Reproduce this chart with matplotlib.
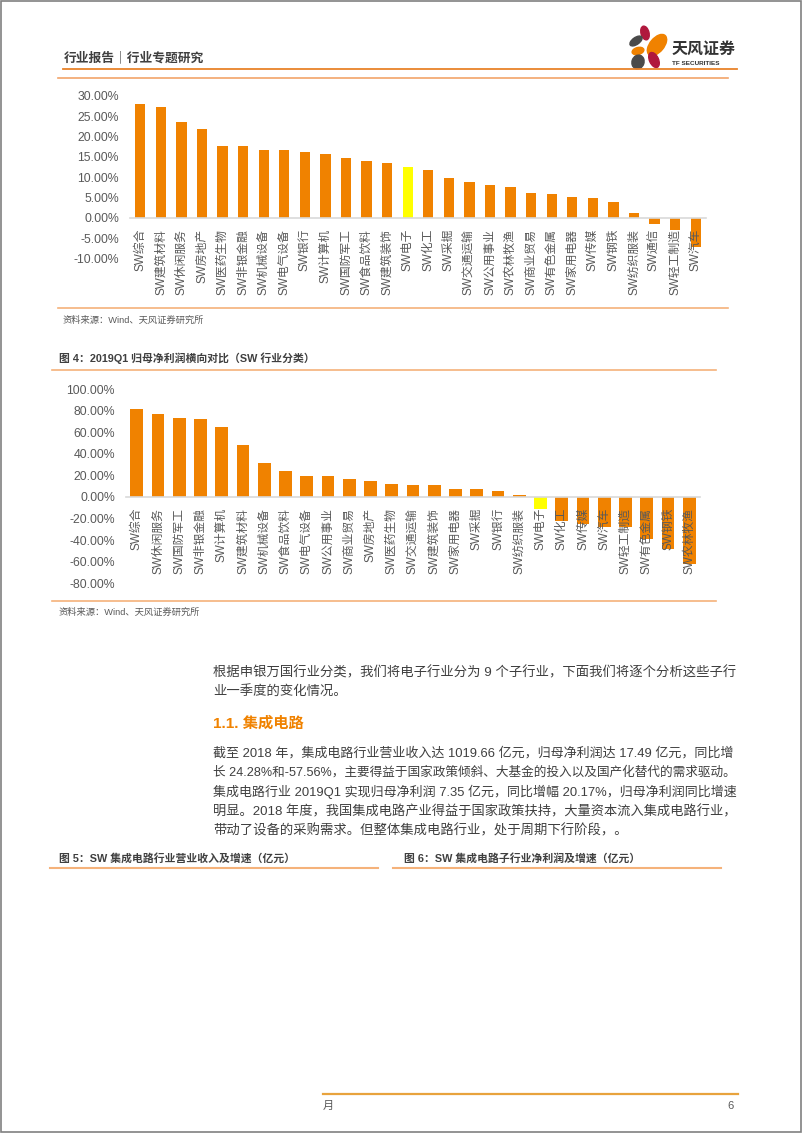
import matplotlib
matplotlib.use('Agg')
import matplotlib.pyplot as plt
from matplotlib.patches import Ellipse, Rectangle
from matplotlib.ticker import FuncFormatter
import numpy as np

plt.rcParams['font.family'] = ['Liberation Sans', 'Noto Sans CJK SC']

# chart 1 (top, caption on previous page)
rev_labels = ['SW综合', 'SW建筑材料', 'SW休闲服务', 'SW房地产', 'SW医药生物', 'SW非银金融',
              'SW机械设备', 'SW电气设备', 'SW银行', 'SW计算机', 'SW国防军工', 'SW食品饮料',
              'SW建筑装饰', 'SW电子', 'SW化工', 'SW采掘', 'SW交通运输', 'SW公用事业',
              'SW农林牧渔', 'SW商业贸易', 'SW有色金属', 'SW家用电器', 'SW传媒', 'SW钢铁',
              'SW纺织服装', 'SW通信', 'SW轻工制造', 'SW汽车']
rev_growth = [28.0, 27.3, 23.6, 21.9, 17.6, 17.6, 16.6, 16.6, 16.3, 15.8, 14.6, 14.0,
              13.6, 12.5, 11.8, 9.9, 8.8, 8.0, 7.6, 6.0, 5.8, 5.1, 4.9, 3.8,
              1.1, -1.6, -3.1, -7.1]

# chart 2: 图 4 2019Q1 归母净利润横向对比
profit_labels = ['SW综合', 'SW休闲服务', 'SW国防军工', 'SW非银金融', 'SW计算机', 'SW建筑材料',
                 'SW机械设备', 'SW食品饮料', 'SW电气设备', 'SW公用事业', 'SW商业贸易', 'SW房地产',
                 'SW医药生物', 'SW交通运输', 'SW建筑装饰', 'SW家用电器', 'SW采掘', 'SW银行',
                 'SW纺织服装', 'SW电子', 'SW化工', 'SW传媒', 'SW汽车', 'SW轻工制造',
                 'SW有色金属', 'SW钢铁', 'SW农林牧渔']
profit_growth = [81.4, 77.1, 73.4, 72.1, 65.0, 48.0, 31.3, 23.8, 19.2, 19.2, 16.4, 14.6,
                 12.4, 11.5, 11.5, 7.1, 7.1, 5.9, 2.2, -11.1, -22.6, -25.1, -27.6, -28.2,
                 -38.7, -48.3, -62.2]

para1 = ['根据申银万国行业分类，我们将电子行业分为 9 个子行业，下面我们将逐个分析这些子行',
         '业一季度的变化情况。']
para2 = ['截至 2018 年，集成电路行业营业收入达 1019.66 亿元，归母净利润达 17.49 亿元，同比增',
         '长 24.28%和-57.56%，主要得益于国家政策倾斜、大基金的投入以及国产化替代的需求驱动。',
         '集成电路行业 2019Q1 实现归母净利润 7.35 亿元，同比增幅 20.17%，归母净利润同比增速',
         '明显。2018 年度，我国集成电路产业得益于国家政策扶持，大量资本流入集成电路行业，',
         '带动了设备的采购需求。但整体集成电路行业，处于周期下行阶段，。']

ORANGE = '#F08200'
YELLOW = '#FFFF00'
GRAY = '#595959'
TEXT = '#3F3F3F'
LINE = '#F5B27A'

W, H = 802, 1133
fig = plt.figure(figsize=(W / 100, H / 100), dpi=100)

# page layer in pixel coords
page = fig.add_axes([0, 0, 1, 1])
page.set_xlim(0, W)
page.set_ylim(H, 0)
page.axis('off')


def px_axes(left, top, right, bottom):
    return fig.add_axes([left / W, 1 - bottom / H, (right - left) / W, (bottom - top) / H])


def bar_chart(ax, labels, values, ymin, ymax, step, width):
    for s in ['top', 'right', 'left']:
        ax.spines[s].set_visible(False)
    ax.spines['bottom'].set_position(('data', 0))
    ax.spines['bottom'].set_color('#D9D9D9')
    ax.spines['bottom'].set_linewidth(1.2)
    x = np.arange(len(labels))
    colors = [YELLOW if lab == 'SW电子' else ORANGE for lab in labels]
    ax.bar(x, values, width=width, color=colors)
    ax.set_xlim(-0.5, len(labels) - 0.5)
    ax.set_ylim(ymin, ymax)
    ax.set_yticks(np.arange(ymin, ymax + step / 2, step))
    ax.yaxis.set_major_formatter(FuncFormatter(lambda v, p: f'{v:.2f}%'))
    ax.set_xticks(x)
    ax.set_xticklabels(labels)
    ax.tick_params(axis='x', length=0, pad=8, labelrotation=90, labelsize=8.5, labelcolor=GRAY)
    ax.tick_params(axis='y', length=0, pad=8, labelsize=8.8, labelcolor=GRAY)
    ax.patch.set_alpha(0)


ax1 = px_axes(130, 96, 706, 258.3)
bar_chart(ax1, rev_labels, rev_growth, -10, 30, 5, 0.5)

ax2 = px_axes(126, 389, 700, 583.3)
bar_chart(ax2, profit_labels, profit_growth, -80, 100, 20, 0.6)

# header
page.text(64, 58, '行业报告｜行业专题研究', fontsize=9.2, fontweight='bold', color=TEXT,
          va='center', ha='left')
page.plot([63, 737], [68.5, 68.5], color='#E8822A', lw=1.3)
page.plot([58, 728], [78, 78], color='#F2A46A', lw=1.2)

# logo
crimson, dgray = '#B0183D', '#4A4A4A'
petals = [(645, 33, 8, 14, -15, crimson), (636, 41, 7, 14, 55, dgray),
          (657, 45, 14, 25, 40, ORANGE), (638, 51, 7, 12, 75, ORANGE),
          (654, 60, 9, 16, -25, crimson), (638, 62, 12, 14, 20, dgray)]
for cx, cy, w, h, ang, c in petals:
    page.add_patch(Ellipse((cx, cy), w, h, angle=ang, color=c))
page.text(672, 49, '天风证券', fontsize=11.5, fontweight='bold', color='#333333',
          va='center', ha='left')
page.text(672, 63.5, 'TF SECURITIES', fontsize=4.6, fontweight='bold', color='#333333',
          va='center', ha='left')

# chart 1 frame
page.plot([58, 728], [308, 308], color=LINE, lw=1.2)
page.text(63, 320, '资料来源：Wind、天风证券研究所', fontsize=6.7, color=GRAY, va='center')

# chart 2 frame
page.text(59, 358, '图 4：2019Q1 归母净利润横向对比（SW 行业分类）', fontsize=7.8,
          fontweight='bold', color=TEXT, va='center')
page.plot([52, 716], [370, 370], color=LINE, lw=1.2)
page.plot([52, 716], [600.7, 600.7], color=LINE, lw=1.2)
page.text(59, 612, '资料来源：Wind、天风证券研究所', fontsize=6.7, color=GRAY, va='center')

# body text; lines wider than the column get shrunk to fit
renderer = fig.canvas.get_renderer()
COL_LEFT, COL_WIDTH = 213, 524


def body_line(y, s):
    t = page.text(COL_LEFT, y, s, fontsize=9.6, color=TEXT, va='center')
    w = t.get_window_extent(renderer).width
    if w > COL_WIDTH:
        t.set_fontsize(9.6 * COL_WIDTH / w)


for i, line in enumerate(para1):
    body_line(673 + i * 19, line)
page.text(213, 723, '1.1. 集成电路', fontsize=11, fontweight='bold', color=ORANGE, va='center')
for i, line in enumerate(para2):
    body_line(753 + i * 19.5, line)

page.text(59, 858.5, '图 5：SW 集成电路行业营业收入及增速（亿元）', fontsize=7.8,
          fontweight='bold', color=TEXT, va='center')
page.text(404, 858.5, '图 6：SW 集成电路子行业净利润及增速（亿元）', fontsize=7.8,
          fontweight='bold', color=TEXT, va='center')
page.plot([50, 378], [868, 868], color=LINE, lw=1.5)
page.plot([393, 721], [868, 868], color=LINE, lw=1.5)

# footer
page.plot([323, 738], [1094, 1094], color='#E8A33D', lw=1.6)
page.text(323, 1106, '月', fontsize=8, color=GRAY, va='center')
page.text(731, 1106, '6', fontsize=8, color=GRAY, va='center', ha='center')

# page border
page.add_patch(Rectangle((0.5, 0.5), W - 1.5, H - 1.5, fill=False, edgecolor='#808080', lw=1.2))

fig.savefig('out.png', dpi=100)
